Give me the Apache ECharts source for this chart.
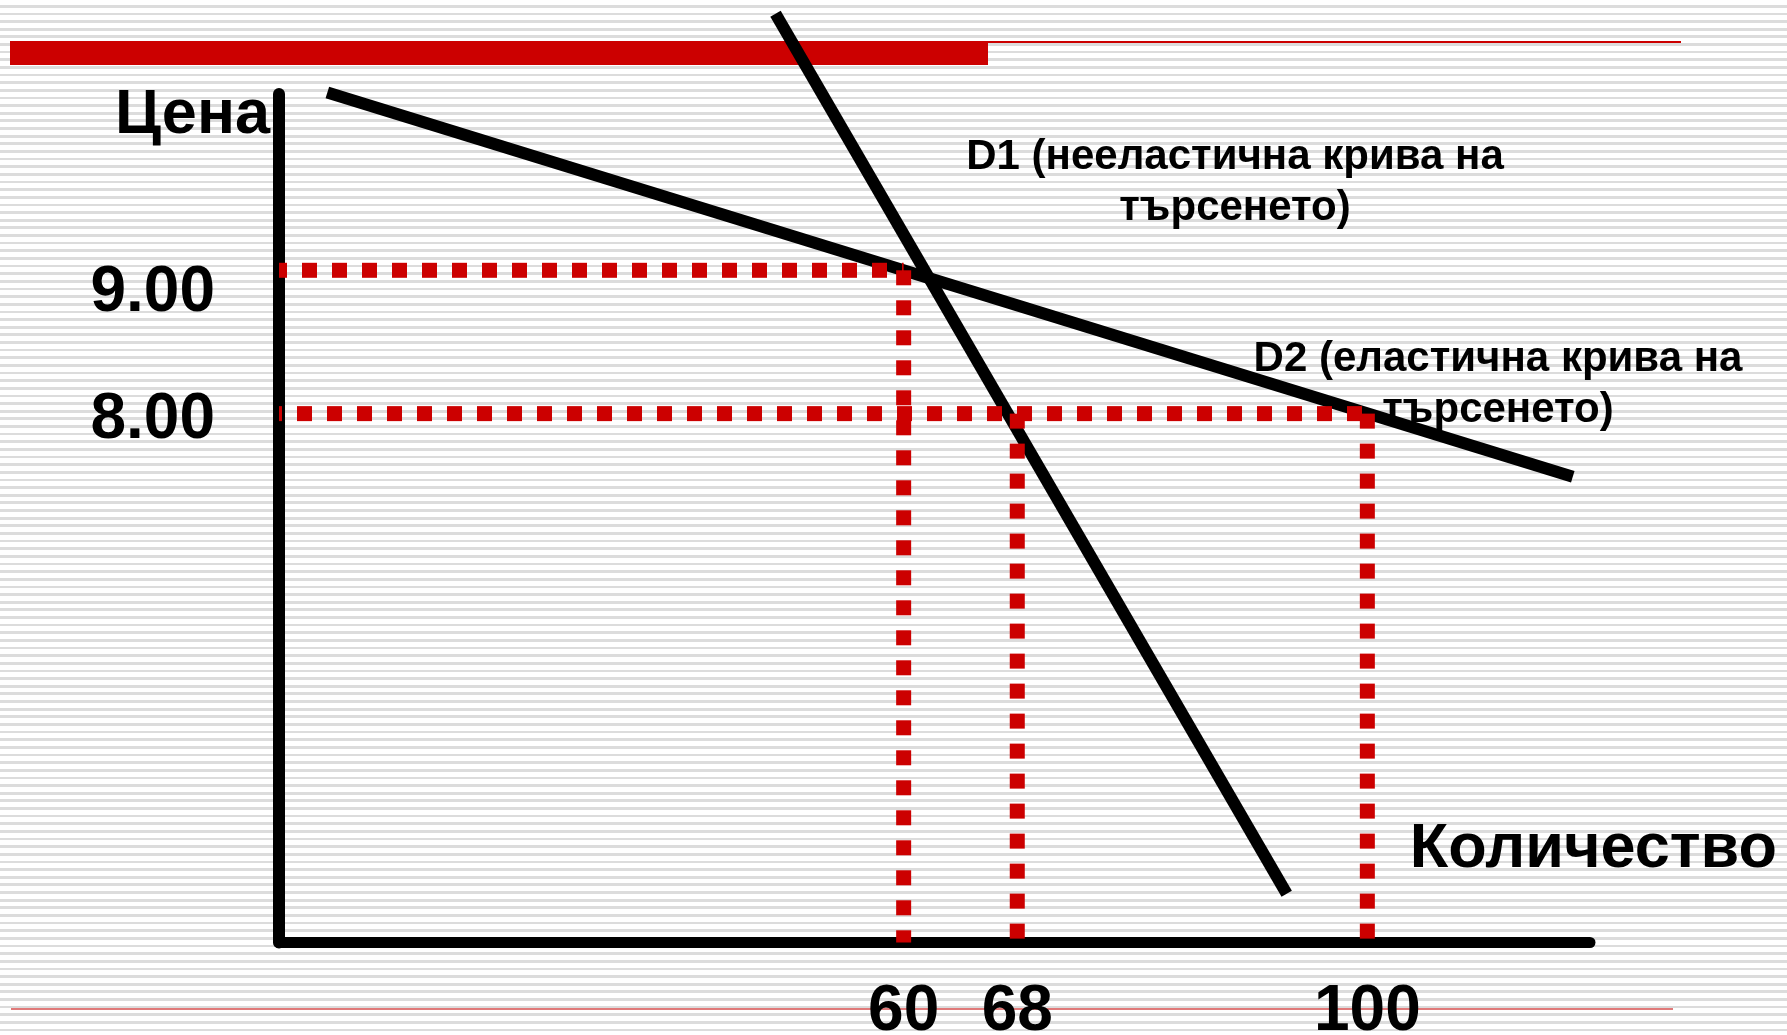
<!DOCTYPE html>
<html>
<head>
<meta charset="utf-8">
<script src="https://cdn.jsdelivr.net/npm/echarts@6/dist/echarts.min.js"></script>
<style>
  html, body { margin: 0; padding: 0; }
  #chart {
    width: 1787px; height: 1035px;
    background: repeating-linear-gradient(to bottom, #ffffff 0px, #ffffff 4.9px, #dcdcdc 4.9px, #dcdcdc 7.64px);
  }
</style>
</head>
<body>
<div id="chart"></div>
<script>
// ---- data ----
const quantityTicks = [60, 68, 100];
const priceTicks = [8, 9];
const priceTickLabels = ['8.00', '9.00'];
const priceHigh = 9;
const priceLow = 8;
const qAtHighPrice = 60;     // both curves at 9.00
const qD1AtLowPrice = 68;    // inelastic curve at 8.00
const qD2AtLowPrice = 100;   // elastic curve at 8.00
const d1Inelastic = [[52.1, 10.79], [91.5, 4.65]];
const d2Elastic = [[31.8, 10.24], [125.4, 7.56]];
const xRange = [30.15, 127.8];
const yRange = [4.31, 10.23];
const yAxisTitle = 'Цена';
const xAxisTitle = 'Количество';
const d1Label = ['D1 (нееластична крива на', 'търсенето)'];
const d2Label = ['D2 (еластична крива на', 'търсенето)'];

const FONT = '"Liberation Sans", Arial, sans-serif';
const RED = '#CC0000';

const chart = echarts.init(document.getElementById('chart'), null, { renderer: 'canvas' });

function dotted(data, offset) {
  return {
    type: 'line', data: data, symbol: 'none', silent: true, clip: false, z: 4,
    lineStyle: { color: RED, width: 15, type: [15, 15], dashOffset: offset || 0, cap: 'butt' }
  };
}
function demand(data) {
  return {
    type: 'line', data: data, symbol: 'none', silent: true, clip: false, z: 3,
    lineStyle: { color: '#000', width: 12, cap: 'butt' }
  };
}

const yPads = { '9': [46, 0, 0, 0], '8': [14, 0, 0, 0] };
const yRich = {};
priceTicks.forEach((p) => {
  yRich['p' + p] = { fontSize: 64, fontWeight: 'bold', fontFamily: FONT, color: '#000', padding: yPads[String(p)] };
});

function txt(text, x, y, size, align) {
  return { type: 'text', silent: true, style: { text: text, x: x, y: y, fill: '#000', font: 'bold ' + size + 'px ' + FONT, textAlign: align, textVerticalAlign: 'middle' } };
}

const option = {
  backgroundColor: 'transparent',
  animation: false,
  grid: { left: 279, right: 197, top: 94, bottom: 92.5, containLabel: false, outerBoundsMode: 'none' },
  xAxis: {
    type: 'log', logBase: 10, min: xRange[0], max: xRange[1],
    axisLine: { show: true, lineStyle: { color: '#000', width: 11 } },
    axisTick: { show: false },
    splitLine: { show: false },
    minorTick: { show: false },
    minorSplitLine: { show: false },
    axisLabel: {
      customValues: quantityTicks,
      formatter: v => String(Math.round(v)),
      fontSize: 64, fontWeight: 'bold', fontFamily: FONT, color: '#000',
      margin: 70, verticalAlign: 'middle'
    }
  },
  yAxis: {
    type: 'value', min: yRange[0], max: yRange[1],
    axisLine: { show: true, lineStyle: { color: '#000', width: 12 } },
    axisTick: { show: false },
    splitLine: { show: false },
    axisLabel: {
      customValues: priceTicks,
      formatter: v => {
        const i = priceTicks.indexOf(Math.round(v));
        return '{p' + priceTicks[i] + '|' + priceTickLabels[i] + '}';
      },
      rich: yRich,
      margin: 64
    }
  },
  series: [
    demand(d1Inelastic),
    demand(d2Elastic),
    dotted([[xRange[0], priceHigh], [qAtHighPrice, priceHigh]], 7),
    dotted([[qAtHighPrice, priceHigh], [qAtHighPrice, yRange[0]]], 0),
    dotted([[xRange[0], priceLow], [qD2AtLowPrice, priceLow]], 12),
    dotted([[qD1AtLowPrice, priceLow], [qD1AtLowPrice, yRange[0]]], 0),
    dotted([[qD2AtLowPrice, priceLow], [qD2AtLowPrice, yRange[0]]], 0)
  ],
  graphic: [
    { type: 'rect', silent: true, shape: { x: 10, y: 41, width: 978, height: 24 }, style: { fill: RED } },
    { type: 'line', silent: true, shape: { x1: 988, y1: 42, x2: 1681, y2: 42 }, style: { stroke: RED, lineWidth: 2 } },
    { type: 'line', silent: true, shape: { x1: 11, y1: 1009, x2: 1673, y2: 1009 }, style: { stroke: '#E07A7A', lineWidth: 2 } },
    txt(yAxisTitle, 270, 116, 63, 'right'),
    txt(xAxisTitle, 1777, 850, 63, 'right'),
    txt(d1Label[0], 1235, 157, 42, 'center'),
    txt(d1Label[1], 1235, 208, 42, 'center'),
    txt(d2Label[0], 1498, 359, 42, 'center'),
    txt(d2Label[1], 1498, 410, 42, 'center')
  ]
};
chart.setOption(option);
</script>
</body>
</html>
